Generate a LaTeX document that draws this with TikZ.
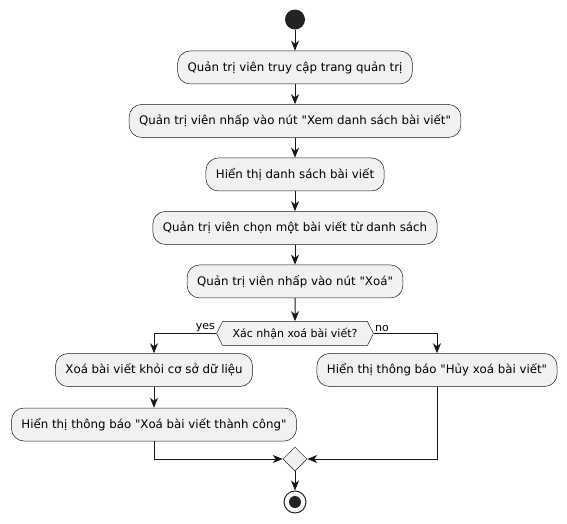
\documentclass[tikz,border=0pt]{standalone}
\usepackage{fontspec}
\setmainfont{DejaVu Sans}[Ligatures=TeXOff]
\usetikzlibrary{shapes.geometric,shapes.symbols,arrows.meta,positioning}

\definecolor{boxfill}{HTML}{F1F1F1}
\definecolor{boxline}{HTML}{181818}
\definecolor{dotfill}{HTML}{222222}

\begin{document}
\begin{tikzpicture}[
    x=1pt, y=-1pt,
    node distance=20pt,
    font=\fontsize{11.8}{14}\selectfont,
    box/.style={rectangle, draw=boxline, line width=0.5pt, rounded corners=12.5pt, fill=boxfill, minimum height=33pt, inner xsep=10pt},
    choice/.style={signal, signal to=west and east, signal pointer angle=127, draw=boxline, line width=0.5pt, fill=boxfill, minimum height=24pt, inner xsep=10pt, font=\fontsize{11}{13}\selectfont},
    merger/.style={diamond, draw=boxline, line width=0.5pt, fill=boxfill, minimum size=24pt, inner sep=0pt},
    startdot/.style={circle, fill=dotfill, minimum size=20pt, inner sep=0pt},
    stopdot/.style={circle, draw=dotfill, line width=1pt, fill=white, minimum size=22pt, inner sep=0pt, path picture={\fill[dotfill] (path picture bounding box.center) circle (6pt);}},
    arrow/.style={-{Stealth[length=10pt,width=8pt,inset=3pt]}, line width=1pt, draw=boxline},
    branch/.style={font=\fontsize{11}{13}\selectfont, inner sep=1pt}
]
    \useasboundingbox (0,0) rectangle (567,523);

    \node[startdot] (start) at (295,19.5) {};
    \node[box, below=21pt of start] (access) {Quản trị viên truy cập trang quản trị};
    \node[box, below=of access] (viewlist) {Quản trị viên nhấp vào nút "Xem danh sách bài viết"};
    \node[box, below=of viewlist] (showlist) {Hiển thị danh sách bài viết};
    \node[box, below=of showlist] (pick) {Quản trị viên chọn một bài viết từ danh sách};
    \node[box, below=of pick] (clickdel) {Quản trị viên nhấp vào nút "Xoá"};
    \node[choice, below=23pt of clickdel] (confirm) {Xác nhận xoá bài viết?};

    \node[box] (remove) at (154,370) {Xoá bài viết khỏi cơ sở dữ liệu};
    \node[box, below=21pt of remove] (done) {Hiển thị thông báo "Xoá bài viết thành công"};
    \node[box] (cancel) at (437,370) {Hiển thị thông báo "Hủy xoá bài viết"};

    \node[merger] (merge) at (295,459) {};
    \node[stopdot] (stop) at (295,502) {};

    \draw[arrow] (start) -- (access);
    \draw[arrow] (access) -- (viewlist);
    \draw[arrow] (viewlist) -- (showlist);
    \draw[arrow] (showlist) -- (pick);
    \draw[arrow] (pick) -- (clickdel);
    \draw[arrow] (clickdel) -- (confirm);

    \draw[arrow] (confirm.west) -| node[branch, pos=0, above left] {yes} (remove);
    \draw[arrow] (confirm.east) -| node[branch, pos=0, above right] {no} (cancel);
    \draw[arrow] (remove) -- (done);

    \draw[arrow] (done) |- (merge);
    \draw[arrow] (cancel) |- (merge);
    \draw[arrow] (merge) -- (stop);
\end{tikzpicture}
\end{document}
